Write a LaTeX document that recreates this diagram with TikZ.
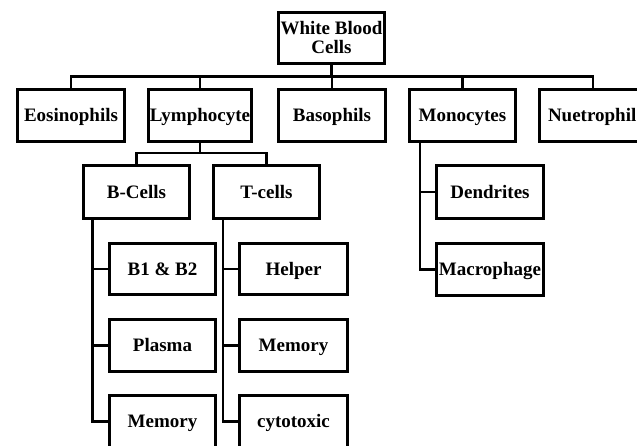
\documentclass[tikz,border=0pt]{standalone}
\usepackage{fontspec}
\setmainfont{Liberation Serif}
\begin{document}
\begin{tikzpicture}[x=1pt,y=-1pt,
  box/.style={draw=black, line width=3.3pt, fill=white, minimum width=106pt, minimum height=52pt,
    inner sep=0pt, text height=12.6pt, text depth=0pt,
    font=\bfseries\fontsize{19}{19}\selectfont, align=center},
  conn/.style={draw=black, line width=2.2pt},
  trunk/.style={draw=black, line width=2.6pt}]
\useasboundingbox (0,0) rectangle (637,446);
\clip (0,0) rectangle (637,446);
\fill[white] (0,0) rectangle (637,446);
% connectors (drawn first, boxes on top)
\coordinate (busy) at (0,76.5);
\coordinate (ly) at (0,153);
\coordinate (bx) at (92.5,0);
\coordinate (tx) at (223,0);
\coordinate (mx) at (420,0);
% level 0
\node[box, minimum width=106pt, minimum height=51pt, text height=, text depth=] (wbc) at (331.5,38) {White Blood\\Cells};
% level 1
\node[box, minimum width=107pt] (eos) at (71,115.5) {Eosinophils};
\node[box, minimum width=103pt] (lym) at (200,115.5) {Lymphocyte};
\node[box, minimum width=107pt] (bas) at (332,115.5) {Basophils};
\node[box, minimum width=106pt] (mono) at (462.5,115.5) {Monocytes};
\node[box, minimum width=107pt, text width=90pt, align=left] (neu) at (593,115.5) {Nuetrophil};
% level 2
\node[box, minimum height=53pt] (bcell) at (136.5,192) {B-Cells};
\node[box, minimum height=53pt] (tcell) at (266.5,192) {T-cells};
\node[box, minimum width=107pt, minimum height=53pt] (dend) at (490,192) {Dendrites};
% level 3
\node[box, minimum height=51pt] (b1) at (162.5,269) {B1 \& B2};
\node[box] (plasma) at (162.5,345.5) {Plasma};
\node[box] (bmem) at (162.5,421.5) {Memory};
\node[box, minimum width=108pt, minimum height=51pt] (helper) at (293.5,269) {Helper};
\node[box, minimum width=108pt] (tmem) at (293.5,345.5) {Memory};
\node[box, minimum width=108pt] (cyto) at (293.5,421.5) {cytotoxic};
\node[box, minimum width=107pt] (macro) at (490,269.5) {Macrophage};
% connectors
\draw[conn] (wbc.south) -- (wbc.south |- busy);
\draw[conn] (eos.north) -- (eos.north |- busy) -| (neu.north);
\draw[conn] (lym.north) -- (lym.north |- busy);
\draw[conn] (bas.north) -- (bas.north |- busy);
\draw[conn] (mono.north) -- (mono.north |- busy);
\draw[trunk] (lym.south) -- (lym.south |- ly);
\draw[conn] (bcell.north) -- (bcell.north |- ly) -| (tcell.north);
\draw[trunk] (bcell.south -| bx) |- (bmem.west);
\draw[conn] (b1.west) -- (b1.west -| bx);
\draw[conn] (plasma.west) -- (plasma.west -| bx);
\draw[trunk] (tcell.south -| tx) |- (cyto.west);
\draw[conn] (helper.west) -- (helper.west -| tx);
\draw[conn] (tmem.west) -- (tmem.west -| tx);
\draw[trunk] (mono.south -| mx) |- (macro.west);
\draw[conn] (dend.west) -- (dend.west -| mx);
\end{tikzpicture}
\end{document}
